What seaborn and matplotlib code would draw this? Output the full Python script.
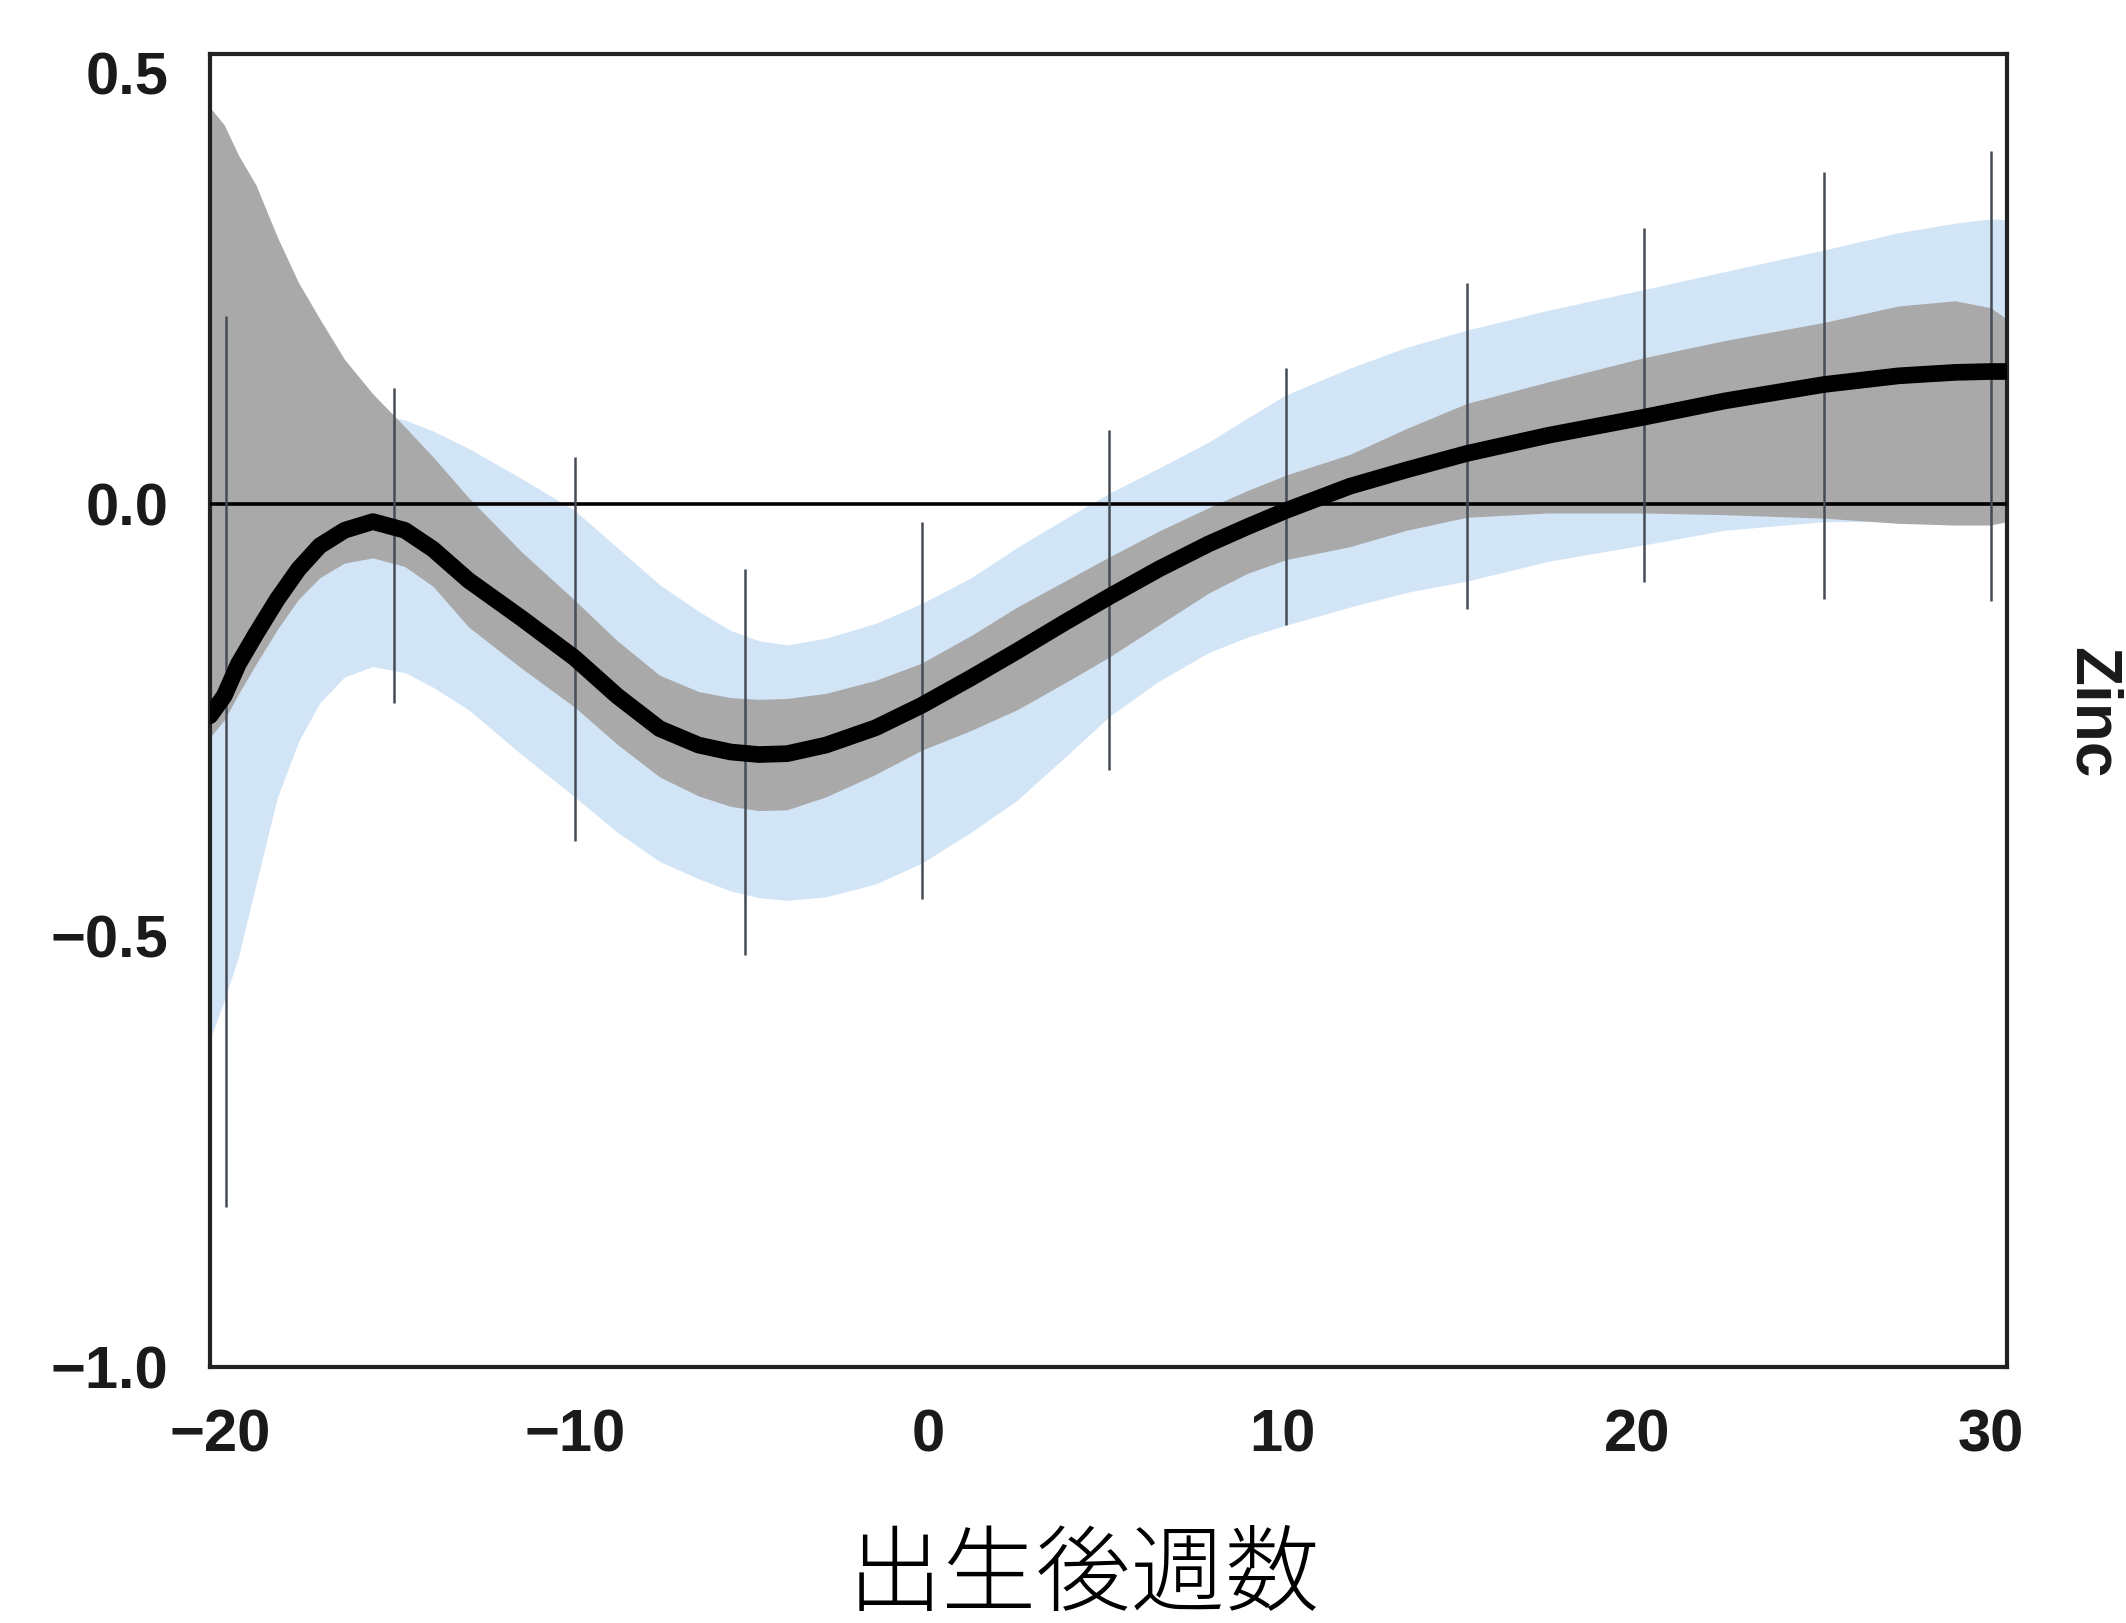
import numpy as np
import matplotlib
matplotlib.use("Agg")
import matplotlib.pyplot as plt
import seaborn as sns

# weeks after birth
week = [-20.3, -19.9, -19.5, -19.0, -18.4, -17.8, -17.2, -16.5, -15.7, -14.8,
        -14.0, -13.0, -11.5, -10.0, -8.8, -7.6, -6.5, -5.6, -4.8, -4.0, -2.9,
        -1.5, -0.2, 1.2, 2.5, 3.8, 5.1, 6.5, 7.9, 9.0, 10.1,
        11.9, 13.5, 15.2, 17.5, 20.2, 22.5, 25.3, 27.4, 29.0, 30.0, 30.45]

# black mean curve
zinc_mean = [-0.245, -0.222, -0.185, -0.150, -0.110, -0.075, -0.048, -0.030, -0.020, -0.030,
             -0.052, -0.088, -0.132, -0.178, -0.222, -0.260, -0.279, -0.287, -0.290, -0.289, -0.279,
             -0.259, -0.233, -0.201, -0.170, -0.138, -0.107, -0.075, -0.046, -0.026, -0.007,
             0.021, 0.040, 0.059, 0.080, 0.101, 0.120, 0.139, 0.149, 0.153, 0.154, 0.154]

# grey band
grey_lo = [-0.270, -0.250, -0.220, -0.185, -0.145, -0.110, -0.085, -0.068, -0.062, -0.072,
           -0.095, -0.142, -0.190, -0.235, -0.278, -0.316, -0.338, -0.350, -0.355, -0.354, -0.339,
           -0.313, -0.285, -0.262, -0.238, -0.208, -0.177, -0.140, -0.103, -0.080, -0.064,
           -0.049, -0.030, -0.015, -0.010, -0.010, -0.012, -0.016, -0.022, -0.024, -0.024, -0.020]
grey_hi = [0.460, 0.440, 0.405, 0.370, 0.310, 0.257, 0.215, 0.168, 0.128, 0.090,
           0.055, 0.008, -0.055, -0.111, -0.158, -0.198, -0.217, -0.224, -0.226, -0.225, -0.219,
           -0.204, -0.184, -0.152, -0.119, -0.090, -0.061, -0.031, -0.004, 0.016, 0.034,
           0.058, 0.088, 0.117, 0.142, 0.170, 0.190, 0.211, 0.230, 0.236, 0.228, 0.215]

# light blue band
blue_lo = [-0.620, -0.575, -0.525, -0.440, -0.340, -0.275, -0.230, -0.200, -0.188, -0.195,
           -0.212, -0.238, -0.290, -0.339, -0.380, -0.414, -0.434, -0.448, -0.456, -0.459, -0.455,
           -0.440, -0.416, -0.380, -0.343, -0.295, -0.246, -0.205, -0.172, -0.154, -0.140,
           -0.119, -0.102, -0.089, -0.066, -0.047, -0.030, -0.020, -0.020, -0.020, -0.020, -0.018]
blue_hi = [0.050, 0.060, 0.070, 0.080, 0.090, 0.100, 0.105, 0.108, 0.105, 0.098,
           0.085, 0.065, 0.030, -0.007, -0.050, -0.093, -0.124, -0.146, -0.158, -0.163, -0.155,
           -0.138, -0.115, -0.085, -0.050, -0.018, 0.013, 0.042, 0.072, 0.100, 0.127,
           0.158, 0.182, 0.202, 0.225, 0.249, 0.270, 0.295, 0.315, 0.326, 0.331, 0.330]

# thin vertical bars
bar_week = [-19.85, -15.1, -10.0, -5.2, -0.2, 5.1, 10.1, 15.2, 20.2, 25.3, 30.0]
bar_lo = [-0.814, -0.230, -0.390, -0.522, -0.457, -0.308, -0.140, -0.121, -0.090, -0.110, -0.112]
bar_hi = [0.218, 0.135, 0.055, -0.075, -0.020, 0.086, 0.158, 0.257, 0.320, 0.385, 0.410]

x_ticks = [-20, -10, 0, 10, 20, 30]
y_ticks = [-1.0, -0.5, 0.0, 0.5]

sns.set_theme(style="white")
plt.rcParams['font.family'] = ['Liberation Sans', 'Noto Sans CJK JP', 'DejaVu Sans']

fig = plt.figure(figsize=(21.26, 16.23), dpi=100)
ax = fig.add_axes([0.0988, 0.1577, 0.8452, 0.8090])

ax.fill_between(week, blue_lo, blue_hi, color='#d2e5f7', lw=0, zorder=1)
ax.fill_between(week, grey_lo, grey_hi, color='#a9a9a9', lw=0, zorder=2)
ax.axhline(0, color='black', lw=2.6, zorder=3)
ax.vlines(bar_week, bar_lo, bar_hi, color='#454c55', lw=1.8, zorder=4)
sns.lineplot(x=week, y=zinc_mean, ax=ax, color='black', lw=12, zorder=5,
             sort=False, estimator=None)

ax.set_xlim(-20.3, 30.46)
ax.set_ylim(-1.0, 0.522)
ax.set_xticks(x_ticks)
ax.set_yticks(y_ticks)
ax.set_yticklabels(['\u22121.0', '\u22120.5', '0.0', '0.5'])
ax.set_xticklabels(['\u221220', '\u221210', '0', '10', '20', '30'])
ax.tick_params(axis='both', length=0, labelsize=43, pad=30, colors='#1a1a1a')
for lab in ax.get_xticklabels() + ax.get_yticklabels():
    lab.set_fontweight('bold')
for sp in ax.spines.values():
    sp.set_visible(True)
    sp.set_color('#222222')
    sp.set_linewidth(3)
ax.set_xlabel('')
ax.set_ylabel('')

fig.text(0.984, 0.5607, 'Zinc', rotation=270, ha='center', va='center',
         fontsize=46, fontweight='bold', color='#1a1a1a')
fig.text(0.510, 0.028, '出生後週数', ha='center', va='center', fontsize=68,
         fontweight='light', family=['Noto Sans CJK JP', 'DejaVu Sans'], color='black')

fig.savefig('out.png', dpi=100)
